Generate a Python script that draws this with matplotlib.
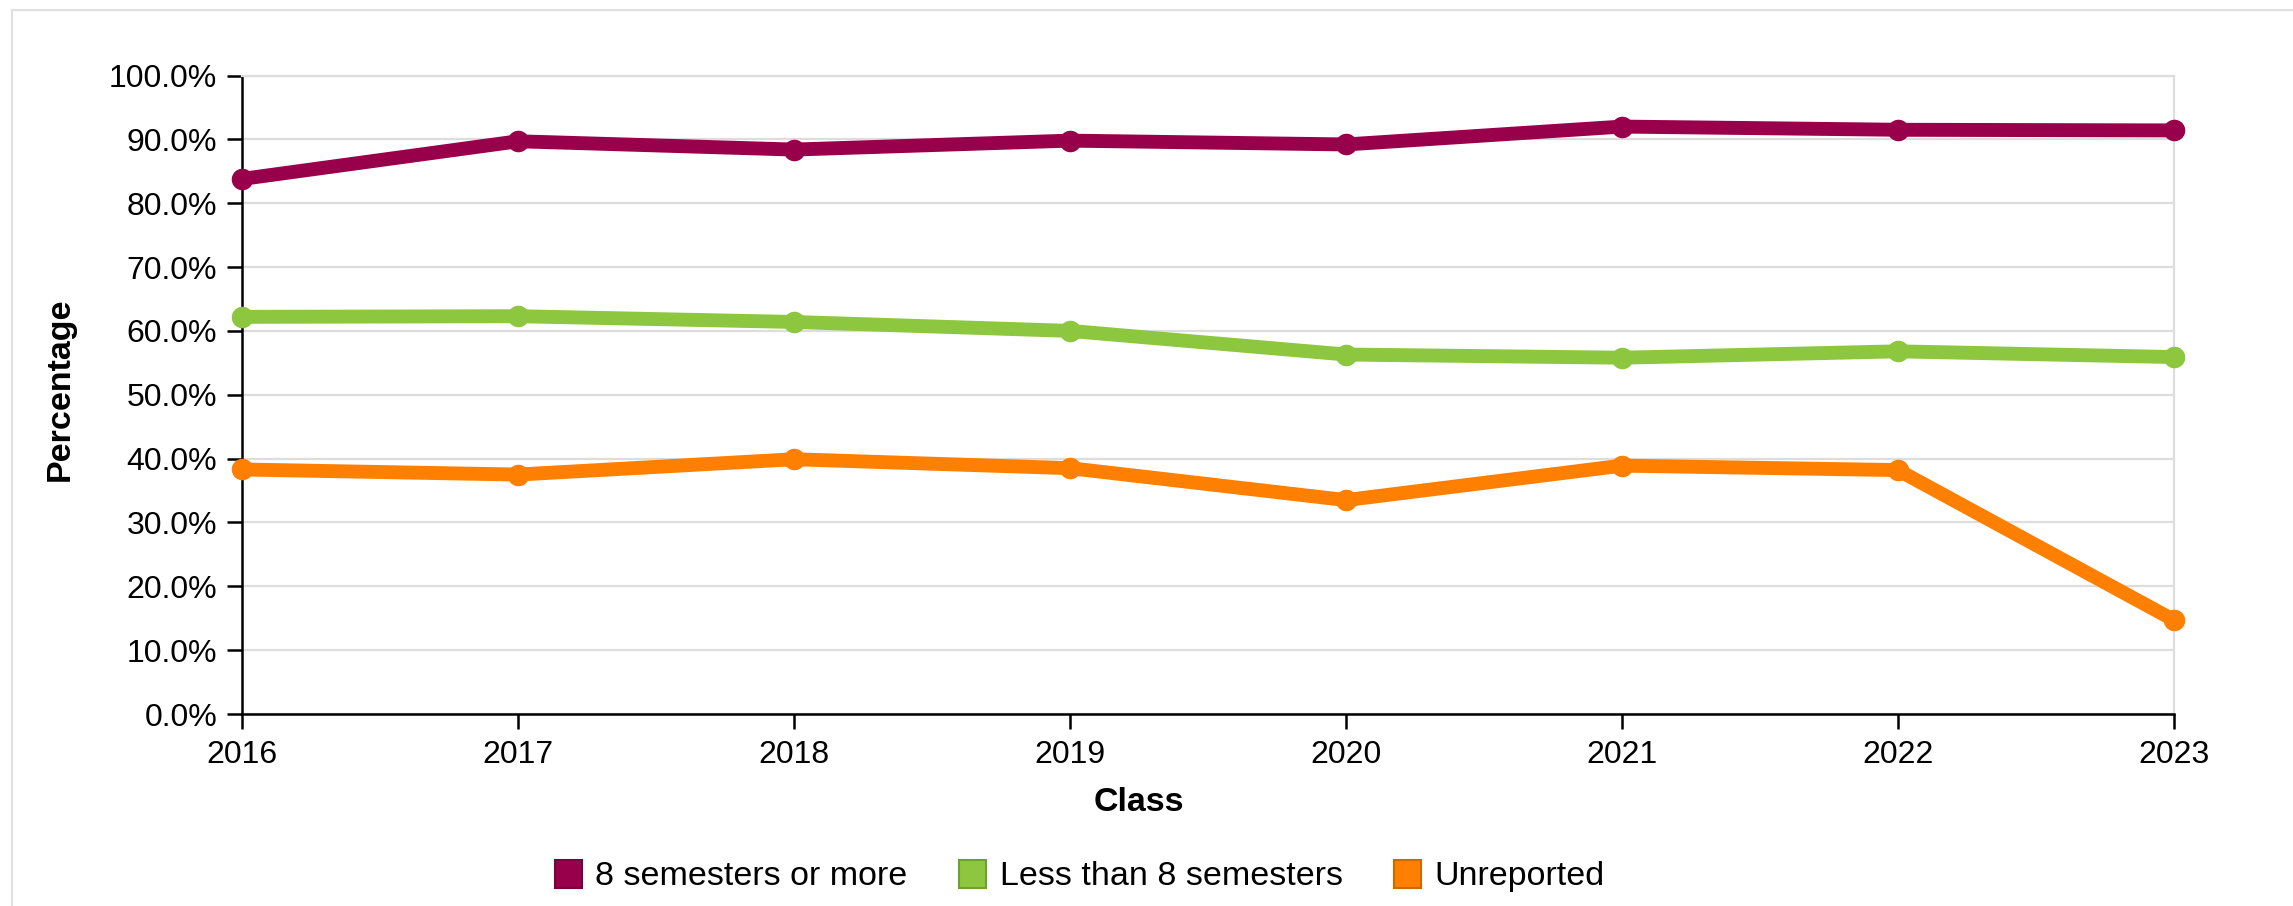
import matplotlib

matplotlib.use("Agg")
import matplotlib.pyplot as plt
from matplotlib.lines import Line2D
from matplotlib.patches import Patch
from matplotlib.ticker import FuncFormatter

plt.rcParams["font.family"] = ["Liberation Sans", "DejaVu Sans"]

years = [2016, 2017, 2018, 2019, 2020, 2021, 2022, 2023]
eight_or_more = [83.8, 89.7, 88.4, 89.8, 89.2, 92.0, 91.5, 91.4]
less_than_eight = [62.2, 62.3, 61.4, 60.0, 56.3, 55.8, 56.8, 55.9]
unreported = [38.3, 37.5, 39.9, 38.5, 33.5, 38.9, 38.2, 14.7]

series = [
    ("8 semesters or more", eight_or_more, "#99004C", "#7a003c"),
    ("Less than 8 semesters", less_than_eight, "#8DC63F", "#6fa02c"),
    ("Unreported", unreported, "#FF8000", "#d06800"),
]

fig = plt.figure(figsize=(22.93, 9.06), dpi=100)
ax = fig.add_axes([242 / 2293, 1 - 714 / 906, (2174 - 242) / 2293, (714 - 75.5) / 906])

for name, vals, color, _ in series:
    ax.plot(years, vals, color=color, linewidth=10, marker="o", markersize=14.5,
            solid_capstyle="round", solid_joinstyle="round", clip_on=False, zorder=3)

ax.set_xlim(years[0], years[-1])
ax.set_ylim(0, 100)
ax.set_xticks(years)
ax.set_yticks(range(0, 101, 10))
ax.yaxis.set_major_formatter(FuncFormatter(lambda v, _: f"{v:.1f}%"))
ax.grid(axis="y", color="#dddddd", linewidth=1.6, zorder=0)

for side in ("top", "right"):
    ax.spines[side].set_color("#dddddd")
    ax.spines[side].set_linewidth(1.6)
for side in ("left", "bottom"):
    ax.spines[side].set_color("black")
    ax.spines[side].set_linewidth(1.8)

ax.tick_params(axis="both", length=11, width=1.8, labelsize=23, colors="black")
ax.tick_params(axis="y", pad=7)
ax.tick_params(axis="x", pad=8)

ax.set_xlabel("Class", fontsize=24.5, fontweight="bold")
ax.xaxis.set_label_coords(0.464, -0.114)
fig.text(60 / 2293, 1 - 389 / 906, "Percentage", fontsize=24.5, fontweight="bold",
         rotation=90, ha="center", va="center")

handles = [Patch(facecolor=c, edgecolor=e, linewidth=1.5, label=n) for n, _, c, e in series]
fig.legend(handles=handles, loc="center left", bbox_to_anchor=(524 / 2293, 1 - 876 / 906),
           ncol=3, frameon=False, fontsize=24.5, handlelength=0.8, handleheight=0.9,
           handletextpad=0.4, columnspacing=1.5)

# outer light frame (top and left)
fig.add_artist(Line2D([12 / 2293, 1], [1 - 10 / 906] * 2, transform=fig.transFigure,
                      color="#e0e0e0", linewidth=1.5))
fig.add_artist(Line2D([12 / 2293] * 2, [0, 1 - 10 / 906], transform=fig.transFigure,
                      color="#e0e0e0", linewidth=1.5))

fig.savefig("out.png", dpi=100)
plt.close(fig)
